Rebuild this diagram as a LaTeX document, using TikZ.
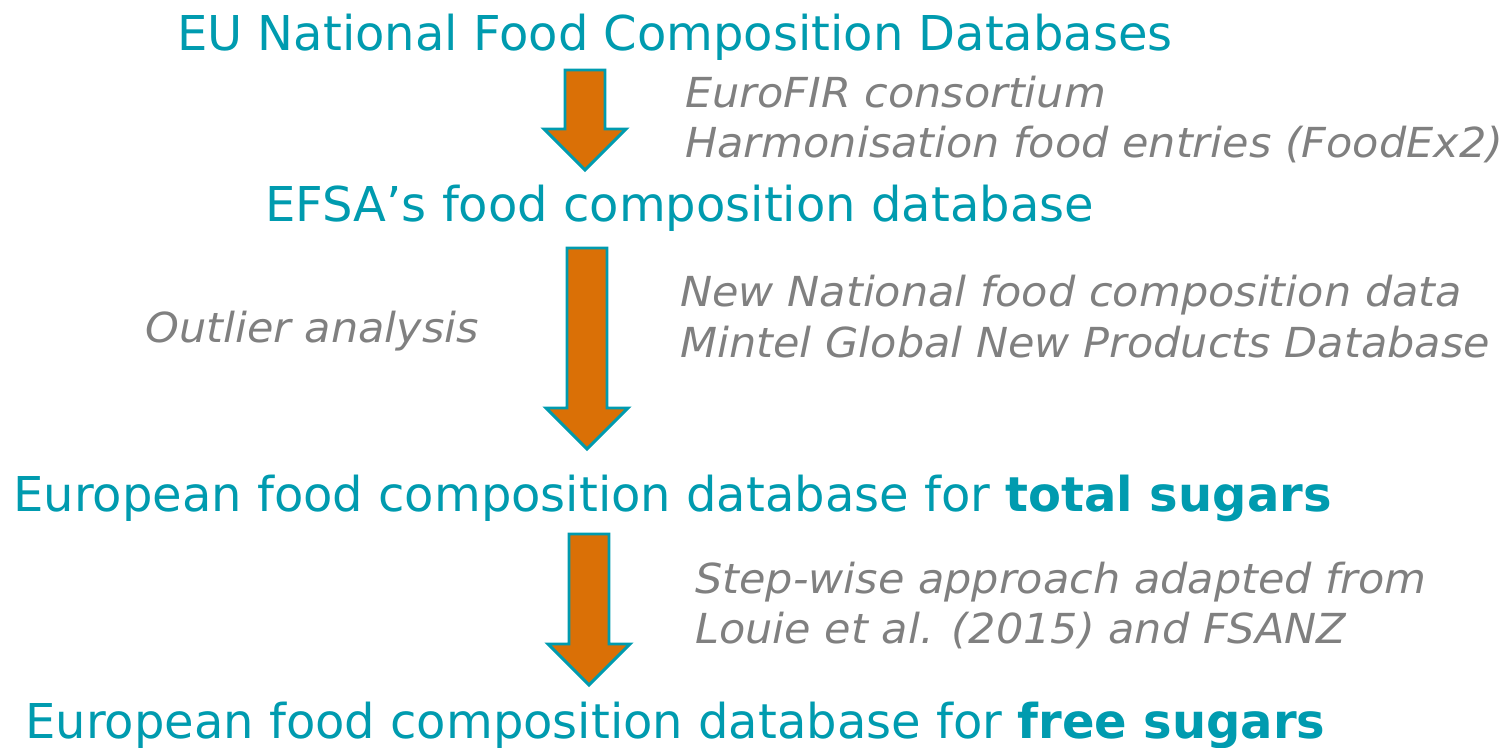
\documentclass[tikz,border=0pt]{standalone}
\usepackage{fontspec}
\setmainfont{DejaVu Sans}[ItalicFeatures={FakeStretch=1.04}]
\usetikzlibrary{calc,positioning}

\definecolor{efsateal}{RGB}{0,155,175}
\definecolor{efsaorange}{RGB}{218,112,6}
\definecolor{notegray}{RGB}{128,128,128}

% block arrow pointing down, from top centre (#1) to tip (#2)
\newcommand{\blockdown}[2]{%
  \draw[blockarrow] ($(#1)+(-20,0)$) -- ($(#1)+(20,0)$) -- ($(#2)+(20,-41)$)
    -- ($(#2)+(41,-41)$) -- (#2) -- ($(#2)+(-41,-41)$) -- ($(#2)+(-20,-41)$) -- cycle;}

\begin{document}
\begin{tikzpicture}[x=0.75pt,y=-0.75pt,
    stage/.style={anchor=base west, inner sep=0pt, text=efsateal, font=\fontsize{36}{43}\selectfont},
    note/.style={anchor=base west, inner sep=0pt, text=notegray, font=\fontsize{31}{37.5}\selectfont\itshape},
    blockarrow/.style={fill=efsaorange, draw=efsateal, line width=2.2pt}]
    \useasboundingbox (0,0) rectangle (1512,748);

    \node[stage] (eudb) at (177,51) {EU National Food Composition Databases};
    \node[stage] (efsadb) at (265,222) {EFSA’s food composition database};
    \node[stage] (totaldb) at (13,511) {European food composition database for \textbf{total sugars}};
    \node[stage] (freedb) at (25,738) {European food composition database for \textbf{free sugars}};

    \node[note] (eurofir) at (685,108) {EuroFIR consortium};
    \node[note] (foodex) at (685,158) {Harmonisation food entries (FoodEx2)};
    \node[note] (outlier) at (145,342) {Outlier analysis};
    \node[note] (newdata) at (680,307) {New National food composition data};
    \node[note] (mintel) at (680,357) {Mintel Global New Products Database};
    \node[note] (stepwise) at (695,593) {Step-wise approach adapted from};
    \node[note] (louie) at (695,643) {Louie et al. (2015) and FSANZ};

    \coordinate (a1top) at (585,70);
    \coordinate (a1tip) at (585,170);
    \coordinate (a2top) at (587,248);
    \coordinate (a2tip) at (587,449);
    \coordinate (a3top) at (589,534);
    \coordinate (a3tip) at (589,685);
    \blockdown{a1top}{a1tip}
    \blockdown{a2top}{a2tip}
    \blockdown{a3top}{a3tip}
\end{tikzpicture}
\end{document}
